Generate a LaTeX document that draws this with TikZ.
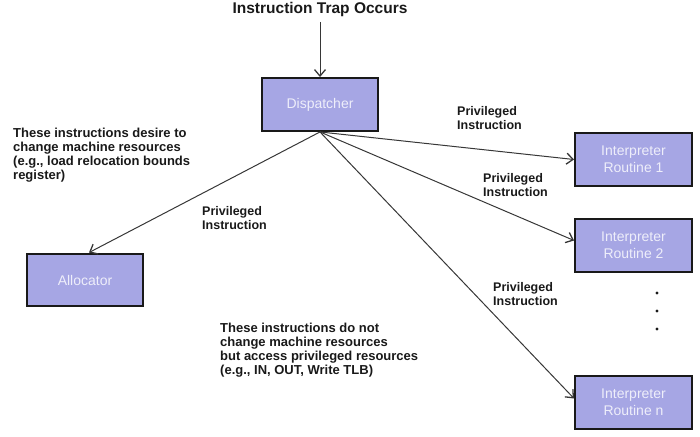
\documentclass[tikz,border=0pt]{standalone}
\usepackage{fontspec}
\setmainfont{Liberation Sans}
\usetikzlibrary{arrows.meta}
\definecolor{boxfill}{RGB}{166,166,228}
\definecolor{boxtext}{RGB}{238,238,250}
\definecolor{linegray}{RGB}{55,55,55}
\definecolor{txt}{RGB}{25,25,25}
\begin{document}
\begin{tikzpicture}[x=1pt,y=-1pt,
  box/.style={draw=black!90, line width=2.4pt, fill=boxfill, minimum width=116.5pt, minimum height=52.5pt,
    text=boxtext, font=\fontsize{14}{17}\selectfont, align=center, inner sep=0pt},
  conn/.style={draw=linegray, line width=1pt, -{Straight Barb[length=6.5pt,width=11pt,line width=1.3pt]}},
  lbl/.style={font=\bfseries\fontsize{12.5}{14.5}\selectfont, align=left, anchor=north west, inner sep=0pt, text=txt},
  note/.style={font=\bfseries\fontsize{13}{13.9}\selectfont, align=left, anchor=north west, inner sep=0pt, text=txt}]
\useasboundingbox (0,0) rectangle (700,436);

\node[font=\bfseries\fontsize{15.5}{18}\selectfont, text=txt, inner sep=0pt] (title) at (320,9) {Instruction Trap Occurs};

\node[box] (disp) at (320,104.5) {Dispatcher};
\node[box] (alloc) at (85,280) {Allocator};
\node[box] (r1) at (633.5,159.5) {Interpreter\\Routine 1};
\node[box] (r2) at (633.5,245.5) {Interpreter\\Routine 2};
\node[box] (rn) at (633.5,402.5) {Interpreter\\Routine n};

\coordinate (tstart) at (320,22);
\draw[conn] (tstart) -- (disp.north);
\draw[conn] (disp.south) -- (r1.west);
\draw[conn] (disp.south) -- ([yshift=5pt]r2.west);
\draw[conn] (disp.south) -- ([yshift=4pt]rn.west);
\draw[conn] (disp.south) -- ([xshift=4pt]alloc.north);

\node[lbl] (l1) at (457,106) {Privileged\\Instruction};
\node[lbl] (l2) at (483,173) {Privileged\\Instruction};
\node[lbl] (l3) at (202,206) {Privileged\\Instruction};
\node[lbl] (l4) at (493,282) {Privileged\\Instruction};

\node[note] (n1) at (13,128) {These instructions desire to\\change machine resources\\(e.g., load relocation bounds\\register)};
\node[note] (n2) at (220,323) {These instructions do not\\change machine resources\\but access privileged resources\\(e.g., IN, OUT, Write TLB)};

\fill[txt] (657,293) circle (1.7);
\fill[txt] (657,311) circle (1.7);
\fill[txt] (657,329) circle (1.7);
\end{tikzpicture}
\end{document}
